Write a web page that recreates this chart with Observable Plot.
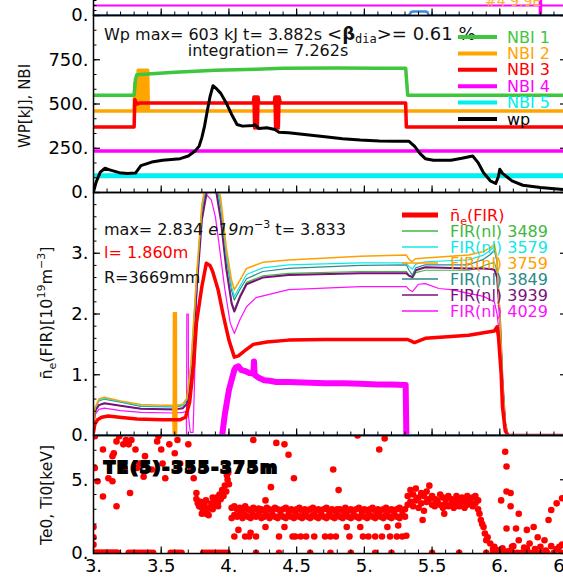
<!DOCTYPE html>
<html><head><meta charset="utf-8">
<script src="https://cdn.jsdelivr.net/npm/d3@7"></script>
<script src="https://cdn.jsdelivr.net/npm/@observablehq/plot@0.6"></script>
<style>
html,body{margin:0;padding:0;overflow:hidden;background:#fff;}
#chart{width:575px;font-family:"DejaVu Sans",sans-serif;}
#chart svg{display:block;}
</style></head><body><div id="chart"></div>
<script>
// ---------- tick labels ----------
const xTickVals = [3, 3.5, 4, 4.5, 5, 5.5, 6, 6.5];
const wpTickVals = [0, 250, 500, 750, 1000];
const wpTickLabels = [0, 250, 500, 750];
const neTickVals = [0, 1, 2, 3, 4];
const neTickLabels = [0, 1, 2, 3];
const teTickVals = [0, 5];
const teTickLabels = [0, 5];

// ---------- panel 0 (cut strip) ----------
const stripMag = [[3, 2], [6.5, 2]];
const stripMagSpike = [[6.3, 0.3], [6.3, 9]];
const stripBlue = [[3, 0], [5.33, 0], [5.345, 0.7], [5.36, 0.8], [5.45, 0.8], [5.465, 0.7], [5.475, 0], [6.5, 0]];

// ---------- panel 1: WP, NBI ----------
const nbi1 = [[3,550],[3.30,550],[3.31,640],[3.32,665],[3.40,670],[3.6,680],[3.9,690],[4.2,697],[4.4,702],[4.8,703],[5.1,702],[5.305,702],[5.32,550],[6.5,550]];
const nbi2 = [[3,460],[3.30,460],[3.305,620],[3.31,460],[3.325,460],[3.33,690],[3.335,460],[3.34,690],[3.345,460],[3.35,690],[3.355,460],[3.36,690],[3.365,460],[3.37,690],[3.375,460],[3.38,690],[3.385,460],[3.39,690],[3.395,460],[3.40,690],[3.405,460],[6.5,460]];
const nbi3 = [[3,370],[3.30,370],[3.305,525],[3.32,500],[3.34,505],[4.18,505],[4.185,540],[4.19,365],[4.195,540],[4.20,365],[4.205,540],[4.21,365],[4.215,540],[4.22,505],[4.335,505],[4.34,540],[4.345,365],[4.35,540],[4.355,365],[4.36,540],[4.365,365],[4.37,540],[4.38,505],[5.305,505],[5.31,370],[6.5,370]];
const nbi4 = [[3,235],[6.5,235]];
const nbi5 = [[3,95],[6.5,95]];
const wp = [[3.0,4],[3.02,60],[3.05,115],[3.085,137],[3.12,128],[3.19,112],[3.25,108],[3.31,110],[3.35,152],[3.43,172],[3.51,182],[3.64,191],[3.70,206],[3.75,234],[3.78,262],[3.80,310],[3.82,375],[3.84,460],[3.86,540],[3.882,603],[3.91,585],[3.94,560],[3.98,506],[4.02,441],[4.06,384],[4.10,375],[4.18,379],[4.19,384],[4.22,362],[4.28,366],[4.34,356],[4.37,340],[4.44,338],[4.71,315],[4.84,304],[4.97,296],[5.11,291],[5.24,290],[5.33,289],[5.37,262],[5.41,221],[5.45,191],[5.51,182],[5.64,182],[5.72,193],[5.80,206],[5.84,169],[5.88,112],[5.93,66],[5.97,51],[5.99,90],[6.00,131],[6.02,108],[6.09,66],[6.17,41],[6.30,28],[6.50,14]];

// ---------- panel 2: line density ----------
const neFIR = [[3.0,0.05],[3.01,0.19],[3.03,0.26],[3.06,0.30],[3.11,0.32],[3.19,0.30],[3.32,0.27],[3.51,0.26],[3.64,0.26],[3.68,0.30],[3.71,0.55],[3.74,1.18],[3.76,1.85],[3.80,2.45],[3.833,2.834],[3.86,2.80],[3.88,2.70],[3.92,2.40],[3.96,1.96],[4.00,1.57],[4.04,1.29],[4.07,1.31],[4.12,1.40],[4.18,1.50],[4.28,1.54],[4.44,1.57],[4.71,1.58],[4.97,1.58],[5.24,1.58],[5.32,1.58],[5.35,1.55],[5.37,1.53],[5.45,1.60],[5.64,1.63],[5.77,1.65],[5.88,1.69],[5.96,1.72],[5.98,1.79],[5.99,1.63],[6.01,1.02],[6.02,0.47],[6.04,0.08],[6.06,0.0],[6.5,0.0]];
const fir3489 = [[3.0,0.1],[3.01,0.40],[3.04,0.50],[3.08,0.53],[3.2,0.49],[3.35,0.44],[3.6,0.43],[3.66,0.45],[3.69,0.53],[3.72,1.0],[3.76,2.4],[3.80,3.6],[3.84,4.1],[3.90,4.15],[3.94,3.6],[3.98,2.8],[4.02,2.2],[4.04,2.07],[4.08,2.30],[4.13,2.52],[4.25,2.63],[4.44,2.67],[4.97,2.70],[5.31,2.70],[5.33,2.64],[5.355,2.59],[5.38,2.68],[5.45,2.72],[5.77,2.72],[5.85,2.76],[5.90,2.81],[5.96,2.85],[5.98,2.7],[6.0,2.0],[6.02,0.9],[6.04,0.2],[6.06,0.0],[6.5,0.0]];
const fir3579 = [[3.0,0.1],[3.01,0.44],[3.04,0.58],[3.08,0.61],[3.2,0.56],[3.35,0.49],[3.6,0.48],[3.66,0.50],[3.69,0.60],[3.72,1.15],[3.76,2.55],[3.80,3.75],[3.84,4.25],[3.90,4.3],[3.94,3.8],[3.98,3.0],[4.02,2.45],[4.04,2.29],[4.08,2.45],[4.13,2.65],[4.25,2.76],[4.44,2.81],[4.97,2.84],[5.31,2.84],[5.33,2.78],[5.355,2.74],[5.38,2.82],[5.45,2.86],[5.77,2.89],[5.88,2.97],[5.93,3.05],[5.96,3.11],[5.98,2.9],[6.0,2.0],[6.02,0.9],[6.04,0.2],[6.06,0.0],[6.5,0.0]];
const fir3759 = [[3.0,0.1],[3.01,0.45],[3.04,0.60],[3.08,0.63],[3.2,0.57],[3.35,0.51],[3.5,0.50],[3.585,0.50],[3.589,0.0],[3.590,2.02],[3.597,2.02],[3.598,0.0],[3.604,0.0],[3.605,2.02],[3.612,2.02],[3.613,0.0],[3.617,0.50],[3.66,0.52],[3.69,0.62],[3.72,1.2],[3.76,2.6],[3.80,3.8],[3.84,4.3],[3.90,4.4],[3.94,3.9],[3.98,3.1],[4.02,2.55],[4.04,2.40],[4.08,2.55],[4.13,2.75],[4.25,2.85],[4.44,2.89],[4.97,2.95],[5.31,2.97],[5.33,2.90],[5.35,2.86],[5.38,2.91],[5.45,2.92],[5.77,2.97],[5.88,3.03],[5.93,3.09],[5.96,3.15],[5.98,2.9],[6.0,2.0],[6.02,0.9],[6.04,0.2],[6.06,0.0],[6.5,0.0]];
const fir3849 = [[3.0,0.1],[3.01,0.44],[3.04,0.57],[3.08,0.60],[3.2,0.55],[3.35,0.48],[3.6,0.47],[3.66,0.49],[3.69,0.58],[3.72,1.1],[3.76,2.5],[3.80,3.7],[3.84,4.2],[3.90,4.25],[3.94,3.75],[3.98,2.95],[4.02,2.38],[4.04,2.23],[4.08,2.40],[4.13,2.58],[4.25,2.70],[4.44,2.75],[4.97,2.80],[5.31,2.81],[5.33,2.72],[5.355,2.64],[5.38,2.76],[5.45,2.81],[5.77,2.81],[5.88,2.90],[5.93,2.98],[5.96,3.05],[5.98,2.85],[6.0,2.0],[6.02,0.9],[6.04,0.2],[6.06,0.0],[6.5,0.0]];
const fir3939 = [[3.0,0.1],[3.01,0.40],[3.04,0.50],[3.08,0.53],[3.2,0.49],[3.35,0.44],[3.6,0.43],[3.66,0.45],[3.69,0.52],[3.72,0.95],[3.76,2.35],[3.80,3.55],[3.84,4.05],[3.90,4.1],[3.94,3.55],[3.98,2.75],[4.02,2.17],[4.04,2.04],[4.08,2.27],[4.13,2.49],[4.25,2.60],[4.44,2.64],[4.97,2.67],[5.31,2.67],[5.33,2.63],[5.355,2.61],[5.38,2.72],[5.45,2.77],[5.77,2.75],[5.88,2.75],[5.93,2.74],[5.96,2.73],[5.98,2.6],[6.0,2.0],[6.02,0.9],[6.04,0.2],[6.06,0.0],[6.5,0.0]];
const fir4029 = [[3.0,0.08],[3.01,0.34],[3.04,0.43],[3.08,0.45],[3.2,0.41],[3.35,0.38],[3.6,0.37],[3.66,0.38],[3.685,0.40],[3.687,0.0],[3.689,2.0],[3.700,2.0],[3.702,0.3],[3.715,0.05],[3.735,0.05],[3.745,0.8],[3.76,2.2],[3.79,3.5],[3.815,3.9],[3.84,3.95],[3.87,3.88],[3.90,3.6],[3.93,3.1],[3.97,2.4],[4.01,1.85],[4.04,1.68],[4.08,1.9],[4.13,2.12],[4.20,2.27],[4.44,2.40],[4.97,2.45],[5.31,2.45],[5.33,2.40],[5.355,2.37],[5.40,2.49],[5.45,2.50],[5.55,2.42],[5.64,2.40],[5.77,2.34],[5.88,2.29],[5.96,2.20],[5.98,2.0],[6.0,1.6],[6.02,0.9],[6.04,0.2],[6.06,0.0],[6.5,0.0]];
const neEdge = [[3.95,0],[3.97,0.35],[4.0,0.75],[4.04,1.08],[4.05,1.12],[4.07,1.14],[4.09,1.08],[4.12,1.06],[4.15,1.03],[4.18,1.02],[4.185,1.22],[4.19,1.0],[4.22,0.95],[4.26,0.91],[4.30,0.90],[4.35,0.88],[4.44,0.88],[4.6,0.87],[4.71,0.86],[4.85,0.86],[4.97,0.85],[5.1,0.84],[5.2,0.84],[5.305,0.83],[5.31,0]];
const zeroLine = [[3, 0], [6.5, 0]];

// ---------- panel 3: Te0, Ti0 ----------
const teEarly = [[3.0,0.6],[3.0,1.1],[3.0,1.8],[3.01,7.95],[3.01,5.8],[3.03,4.9],[3.07,7.05],[3.07,3.86],[3.11,5.1],[3.14,6.6],[3.14,4.9],[3.15,6.8],[3.17,3.2],[3.17,7.6],[3.19,7.95],[3.22,7.4],[3.23,5.8],[3.24,7.7],[3.26,7.4],[3.27,4.1],[3.28,7.7],[3.31,7.05],[3.32,5.8],[3.34,6.1],[3.37,5.2],[3.38,6.6],[3.43,5.7],[3.47,7.6],[3.48,7.95],[3.50,7.05],[3.51,6.1],[3.53,5.1],[3.56,7.4],[3.60,6.8],[3.62,7.7],[3.64,6.1],[3.70,7.4],[3.72,5.8],[3.74,5.1]];
const teRise = [[3.76,4.1],[3.76,3.7],[3.77,3.4],[3.78,3.2],[3.79,3.5],[3.80,3.1],[3.80,2.7],[3.81,2.9],[3.82,3.3],[3.83,2.7],[3.83,3.6],[3.84,3.0],[3.85,2.6],[3.86,3.1],[3.87,3.4],[3.88,3.0],[3.88,3.8],[3.89,3.6],[3.90,3.3],[3.91,3.8],[3.92,3.5],[3.92,3.2],[3.93,4.0],[3.94,3.7],[3.95,4.3],[3.96,3.9],[3.97,4.6],[3.98,4.2],[3.985,5.3],[3.99,5.0],[3.995,5.5],[4.0,4.7]];
const bandAT = [4.02,4.04,4.06,4.08,4.10,4.12,4.14,4.16,4.18,4.20,4.22,4.24,4.26,4.28,4.30,4.32,4.34,4.36,4.38,4.40,4.42,4.44,4.46,4.48,4.50,4.52,4.54,4.56,4.58,4.60,4.62,4.64,4.66,4.68,4.70,4.72,4.74,4.76,4.78,4.80,4.82,4.84,4.86,4.88,4.90,4.92,4.94,4.96,4.98,5.00,5.02,5.04,5.06,5.08,5.10,5.12,5.14,5.16,5.18,5.20,5.22,5.24,5.26,5.28,5.30];
const bandAHi = [3.1,3.2,3.0,3.1,2.9,3.2,3.0,2.9,3.1,3.0,3.05,3.0,2.9,3.1,3.0,2.9,3.1,3.0,2.9,3.0,3.1,2.9,3.0,2.9,3.0,3.1,2.9,3.0,2.9,3.0,3.1,2.9,3.0,2.9,3.0,3.1,2.9,3.0,2.9,3.0,3.0,2.9,3.1,2.9,3.0,2.9,3.0,3.1,2.9,3.0,2.9,3.0,3.1,2.9,3.0,2.9,3.0,3.1,2.9,3.0,2.9,3.0,3.1,2.9,3.0];
const bandALo = [2.4,2.6,2.5,2.7,2.4,2.6,2.5,2.4,2.6,2.5,2.7,2.4,2.5,2.6,2.4,2.6,2.5,2.4,2.6,2.5,2.4,2.6,2.5,2.4,2.6,2.5,2.4,2.6,2.5,2.4,2.6,2.5,2.4,2.6,2.5,2.4,2.6,2.5,2.4,2.6,2.5,2.4,2.6,2.5,2.4,2.6,2.5,2.4,2.6,2.5,2.4,2.6,2.5,2.4,2.6,2.5,2.4,2.6,2.5,2.4,2.6,2.5,2.4,2.6,2.5];
const bandBT = [5.32,5.34,5.36,5.38,5.40,5.42,5.44,5.46,5.48,5.50,5.52,5.54,5.56,5.58,5.60,5.62,5.64,5.66,5.68,5.70,5.72,5.74,5.76,5.78,5.80,5.82,5.84];
const bandBHi = [3.9,4.3,4.0,4.4,3.8,4.1,3.9,4.2,4.6,3.9,3.7,3.6,4.0,3.8,3.7,3.9,3.7,3.6,3.9,3.7,3.8,3.6,3.9,3.7,3.8,3.9,3.6];
const bandBLo = [3.3,3.5,3.2,3.6,3.1,3.4,2.9,3.5,3.7,3.3,3.2,3.4,3.3,3.1,3.4,3.2,3.3,3.1,3.4,3.2,3.5,3.1,3.3,3.4,3.2,3.4,3.0];
const teMid = [[4.04,1.15],[4.12,1.15],[4.15,1.15],[4.20,1.15],[4.37,1.15],[4.47,1.15],[4.49,1.15],[4.53,1.15],[4.57,1.15],[4.63,1.15],[4.71,1.15],[4.75,1.15],[4.79,1.15],[4.89,1.15],[4.99,1.15],[5.03,1.15],[5.08,1.15],[5.13,1.15],[5.19,1.15],[5.24,1.15],[5.28,1.15],[5.31,1.2],[4.07,1.6],[4.27,1.8],[4.41,1.8],[4.87,1.8],[4.97,1.8],[5.17,1.8],[5.25,1.9],[4.16,1.4],[4.18,7.7],[4.27,3.6],[4.31,4.5],[4.35,7.5],[4.41,7.4],[4.44,6.7],[4.48,5.1],[4.77,5.7],[4.81,4.3],[4.95,8.0],[5.11,7.05],[5.15,7.8],[5.43,2.27],[5.59,2.7]];
const teLate = [[5.85,2.7],[5.86,2.27],[5.87,2.0],[5.88,1.8],[5.89,1.36],[5.90,0.9],[5.91,1.1],[5.93,0.68],[5.96,0.45],[5.98,0.23],[6.01,0.11],[6.04,6.9],[6.05,5.9],[6.05,4.2],[6.08,4.1],[6.01,3.6],[6.08,3.2],[6.14,2.7],[6.05,1.7],[6.12,1.7],[6.20,1.6],[6.25,1.8],[6.28,1.1],[6.36,2.27],[6.38,2.95],[6.42,3.4],[6.46,3.75],[6.49,4.2],[6.33,0.9],[6.22,0.68],[6.14,0.9],[6.09,0.45],[6.30,0.45],[6.44,0.45],[6.2,0.34],[5.95,0.3],[6.02,0.35],[6.06,0.15],[6.1,0.5],[6.18,0.4],[6.26,0.3],[6.34,0.2],[6.38,0.5],[6.42,0.3],[6.46,0.6]];
const teZeroT = [3.0,3.01,3.02,3.03,3.04,3.05,3.06,3.07,3.08,3.09,3.10,3.11,3.12,3.13,3.14,3.15,3.16,3.17,3.18,3.26,3.28,3.30,3.32,3.34,3.36,3.38,3.40,3.42,3.44,3.57,3.59,3.61,3.63,3.65,3.81,3.83,3.85,3.87,3.89,3.91,3.93,3.95,3.97,3.99,4.2,4.37,4.6,4.75,4.9,5.08,5.2,5.5,5.7,5.9,5.95,6.0,6.03,6.06,6.1,6.13,6.16,6.19,6.22,6.25,6.28,6.31,6.35,6.4,6.45];

// ---------- legends ----------
const nbiNames = ["NBI 1", "NBI 2", "NBI 3", "NBI 4", "NBI 5", "wp"];
const firNames = ["FIR(nl) 3489", "FIR(nl) 3579", "FIR(nl) 3759", "FIR(nl) 3849", "FIR(nl) 3939", "FIR(nl) 4029"];

// ---------- layout / styles ----------
const W = 575, ML = 93, MR = 8, IW = W - ML - MR;
const FONT = "DejaVu Sans, sans-serif";
const STYLE = {overflow: "visible", background: "transparent", fontFamily: FONT, maxWidth: "none"};
const XD = [3, 6.5];
const fmt = d => Number.isInteger(d) ? d + "." : String(d);
const C = {g: "#3fc63f", o: "#ffa500", r: "#ff0000", m: "#ff00ff", c: "#00f0f0", k: "#000000",
  fg: "#40b840", fc: "#10e8e8", fo: "#ffa000", ft: "#2a8a8a", fp: "#7a107a", fm: "#ff10ff", blue: "#3d88e2"};
const xMinor = d3.range(30, 66).map(d => d / 10);
const xy = {x: d => d[0], y: d => d[1]};

function frameTicks(h, yMaj, yMin) {
  return [
    Plot.ruleX(xMinor, {insetTop: h - 3.5, stroke: "black", strokeWidth: 1}),
    Plot.ruleX(xTickVals, {insetTop: h - 6.5, stroke: "black", strokeWidth: 1.2}),
    Plot.ruleY(yMin, {insetRight: IW - 3.5, stroke: "black", strokeWidth: 1}),
    Plot.ruleY(yMaj, {insetRight: IW - 7, stroke: "black", strokeWidth: 1.2}),
    Plot.ruleY(yMin, {insetLeft: IW - 3.5, stroke: "black", strokeWidth: 1}),
    Plot.ruleY(yMaj, {insetLeft: IW - 7, stroke: "black", strokeWidth: 1.2}),
    Plot.frame({stroke: "black", strokeWidth: 1.5})
  ];
}
const yAxis = (ticks) => Plot.axisY({ticks, tickSize: 0, tickPadding: 5, tickFormat: fmt, fontSize: 18, label: null});
const chart = document.getElementById("chart");
const txt = (s, x, y, size) => s.append("text").attr("x", x).attr("y", y).attr("font-size", size)
  .attr("text-anchor", "start").attr("font-family", FONT);

// ---------- strip ----------
const strip = Plot.plot({
  width: W, height: 45, marginLeft: ML, marginRight: MR, marginTop: 0, marginBottom: 0,
  x: {domain: XD, axis: null}, y: {domain: [0, 9]}, style: STYLE,
  marks: [
    Plot.line(stripMag, {...xy, stroke: C.m, strokeWidth: 2, clip: true}),
    Plot.line(stripMagSpike, {...xy, stroke: C.m, strokeWidth: 3.5, clip: true}),
    Plot.line(stripBlue, {...xy, stroke: C.blue, strokeWidth: 2.5, clip: true}),
    ...frameTicks(45, [0, 5], d3.range(0, 10)),
    yAxis([0])
  ]
});
strip.style.marginTop = "-30px";
chart.append(strip);
txt(d3.select(strip), 485, 36, 14).attr("fill", "#ffb030").text("#4 9.9E");

// ---------- panel 1 ----------
const p1 = Plot.plot({
  width: W, height: 177, marginLeft: ML, marginRight: MR, marginTop: 0, marginBottom: 0,
  x: {domain: XD, axis: null}, y: {domain: [0, 1000]}, style: STYLE,
  marks: [
    Plot.line(nbi5, {...xy, stroke: C.c, strokeWidth: 5, clip: true}),
    Plot.line(nbi4, {...xy, stroke: C.m, strokeWidth: 3.5, clip: true}),
    Plot.line(nbi2, {...xy, stroke: C.o, strokeWidth: 3.5, clip: true}),
    Plot.line(nbi1, {...xy, stroke: C.g, strokeWidth: 3.5, clip: true}),
    Plot.line(nbi3, {...xy, stroke: C.r, strokeWidth: 3.5, clip: true}),
    Plot.line(wp, {...xy, stroke: C.k, strokeWidth: 3, clip: true}),
    ...frameTicks(177, wpTickVals, d3.range(0, 1001, 250 / 3)),
    yAxis(wpTickLabels)
  ]
});
chart.append(p1);
{
  const s = d3.select(p1);
  const t = txt(s, 104, 25, 16).attr("fill", "#111");
  t.append("tspan").text("Wp max= 603 kJ t= 3.882s ");
  t.append("tspan").attr("font-size", 18).text("<");
  t.append("tspan").attr("font-size", 18).attr("font-weight", "bold").text("β");
  t.append("tspan").attr("font-size", 12).attr("font-family", "DejaVu Sans Mono").attr("dy", 3).text("dia");
  t.append("tspan").attr("font-size", 18).attr("dy", -3).text(">= 0.61 %");
  txt(s, 268, 41, 16).attr("text-anchor", "middle").attr("fill", "#111").text("integration= 7.262s");
  const cols = [C.g, C.o, C.r, C.m, C.c, C.k];
  nbiNames.forEach((n, i) => {
    const y = 22 + 16.4 * i;
    s.append("line").attr("x1", 458).attr("x2", 497).attr("y1", y).attr("y2", y)
      .attr("stroke", cols[i]).attr("stroke-width", 4);
    txt(s, 507, y, 16).attr("dy", "0.35em").attr("fill", cols[i]).text(n);
  });
  txt(s, 0, 0, 15).attr("transform", "translate(30,91) rotate(-90)").attr("text-anchor", "middle")
    .attr("fill", "#111").text("WP[kJ], NBI");
}

// ---------- panel 2 ----------
const p2 = Plot.plot({
  width: W, height: 243, marginLeft: ML, marginRight: MR, marginTop: 0, marginBottom: 0,
  x: {domain: XD, axis: null}, y: {domain: [0, 4]}, style: STYLE,
  marks: [
    Plot.line(neEdge, {...xy, stroke: C.m, strokeWidth: 6, clip: true}),
    Plot.line(fir4029, {...xy, stroke: C.fm, strokeWidth: 1.2, clip: true}),
    Plot.line(fir3489, {...xy, stroke: C.fg, strokeWidth: 1.2, clip: true}),
    Plot.line(fir3939, {...xy, stroke: C.fp, strokeWidth: 2, clip: true}),
    Plot.line(fir3849, {...xy, stroke: C.ft, strokeWidth: 1.2, clip: true}),
    Plot.line(fir3579, {...xy, stroke: C.fc, strokeWidth: 1.2, clip: true}),
    Plot.line(fir3759, {...xy, stroke: C.fo, strokeWidth: 1.5, clip: true}),
    Plot.line(neFIR, {...xy, stroke: C.r, strokeWidth: 3.5, clip: true}),
    Plot.line(zeroLine, {...xy, stroke: C.blue, strokeWidth: 2.5, clip: true}),
    ...frameTicks(243, neTickVals, d3.range(0, 21).map(d => d / 5)),
    yAxis(neTickLabels)
  ]
});
chart.append(p2);
{
  const s = d3.select(p2);
  const t = txt(s, 104, 43, 16).attr("fill", "#111");
  t.append("tspan").text("max= 2.834 ");
  t.append("tspan").attr("font-style", "italic").text("e19m");
  t.append("tspan").attr("font-size", 11).attr("dy", -7).text("−3");
  t.append("tspan").attr("dy", 7).text(" t= 3.833");
  txt(s, 104, 66, 16).attr("fill", C.r).text("l= 1.860m");
  txt(s, 104, 91, 16).attr("fill", "#111").text("R=3669mm");
  // legend
  const y0 = 23;
  s.append("line").attr("x1", 402).attr("x2", 438).attr("y1", y0).attr("y2", y0)
    .attr("stroke", C.r).attr("stroke-width", 5);
  const lt = txt(s, 450, y0, 16).attr("dy", "0.35em").attr("fill", C.r);
  lt.append("tspan").text("n\u0304");
  lt.append("tspan").attr("font-size", 11).attr("dy", 4).text("e");
  lt.append("tspan").attr("dy", -4).text("(FIR)");
  const cols = [C.fg, C.fc, C.fo, C.ft, C.fp, C.fm];
  firNames.forEach((n, i) => {
    const y = y0 + 16 * (i + 1);
    s.append("line").attr("x1", 402).attr("x2", 438).attr("y1", y).attr("y2", y)
      .attr("stroke", cols[i]).attr("stroke-width", 1.3);
    txt(s, 450, y, 16).attr("dy", "0.35em").attr("fill", cols[i]).text(n);
  });
  const yt = txt(s, 0, 0, 16).attr("transform", "translate(52,121) rotate(-90)").attr("text-anchor", "middle")
    .attr("fill", "#111");
  yt.append("tspan").text("n\u0304");
  yt.append("tspan").attr("font-size", 11).attr("dy", 4).text("e");
  yt.append("tspan").attr("dy", -4).text("(FIR)[10");
  yt.append("tspan").attr("font-size", 11).attr("dy", -7).text("19");
  yt.append("tspan").attr("dy", 7).text("m");
  yt.append("tspan").attr("font-size", 11).attr("dy", -7).text("−3");
  yt.append("tspan").attr("dy", 7).text("]");
}

// ---------- panel 3 ----------
const bandA = bandAT.flatMap((t, i) => [[t, bandAHi[i]], [t, bandALo[i]]]);
const bandB = bandBT.flatMap((t, i) => [[t, bandBHi[i]], [t, bandBLo[i]]]);
const teZero = teZeroT.map(t => [t, 0.05]);
const teAll = [...teEarly, ...teRise, ...bandA, ...bandB, ...teMid, ...teLate, ...teZero];
const p3 = Plot.plot({
  width: W, height: 146, marginLeft: ML, marginRight: MR, marginTop: 0, marginBottom: 28,
  x: {domain: XD}, y: {domain: [0, 8]}, style: STYLE,
  marks: [
    Plot.dot(teAll, {...xy, r: 3.3, fill: "#ff0000", clip: true}),
    ...frameTicks(118, teTickVals, d3.range(0, 9)),
    yAxis(teTickLabels),
    Plot.axisX({ticks: xTickVals, tickSize: 0, tickPadding: 6, tickFormat: fmt, fontSize: 18, label: null})
  ]
});
chart.append(p3);
{
  const s = d3.select(p3);
  txt(s, 104, 38, 16).attr("font-weight", "bold")
    .attr("letter-spacing", 2.2).attr("stroke", "#000").attr("stroke-width", 2.2).attr("fill", "#000")
    .text("TE(5)-355-375m");
  txt(s, 0, 0, 15.5).attr("transform", "translate(52,60) rotate(-90)").attr("text-anchor", "middle")
    .attr("fill", "#111").text("Te0, Ti0[keV]");
}
</script></body></html>
